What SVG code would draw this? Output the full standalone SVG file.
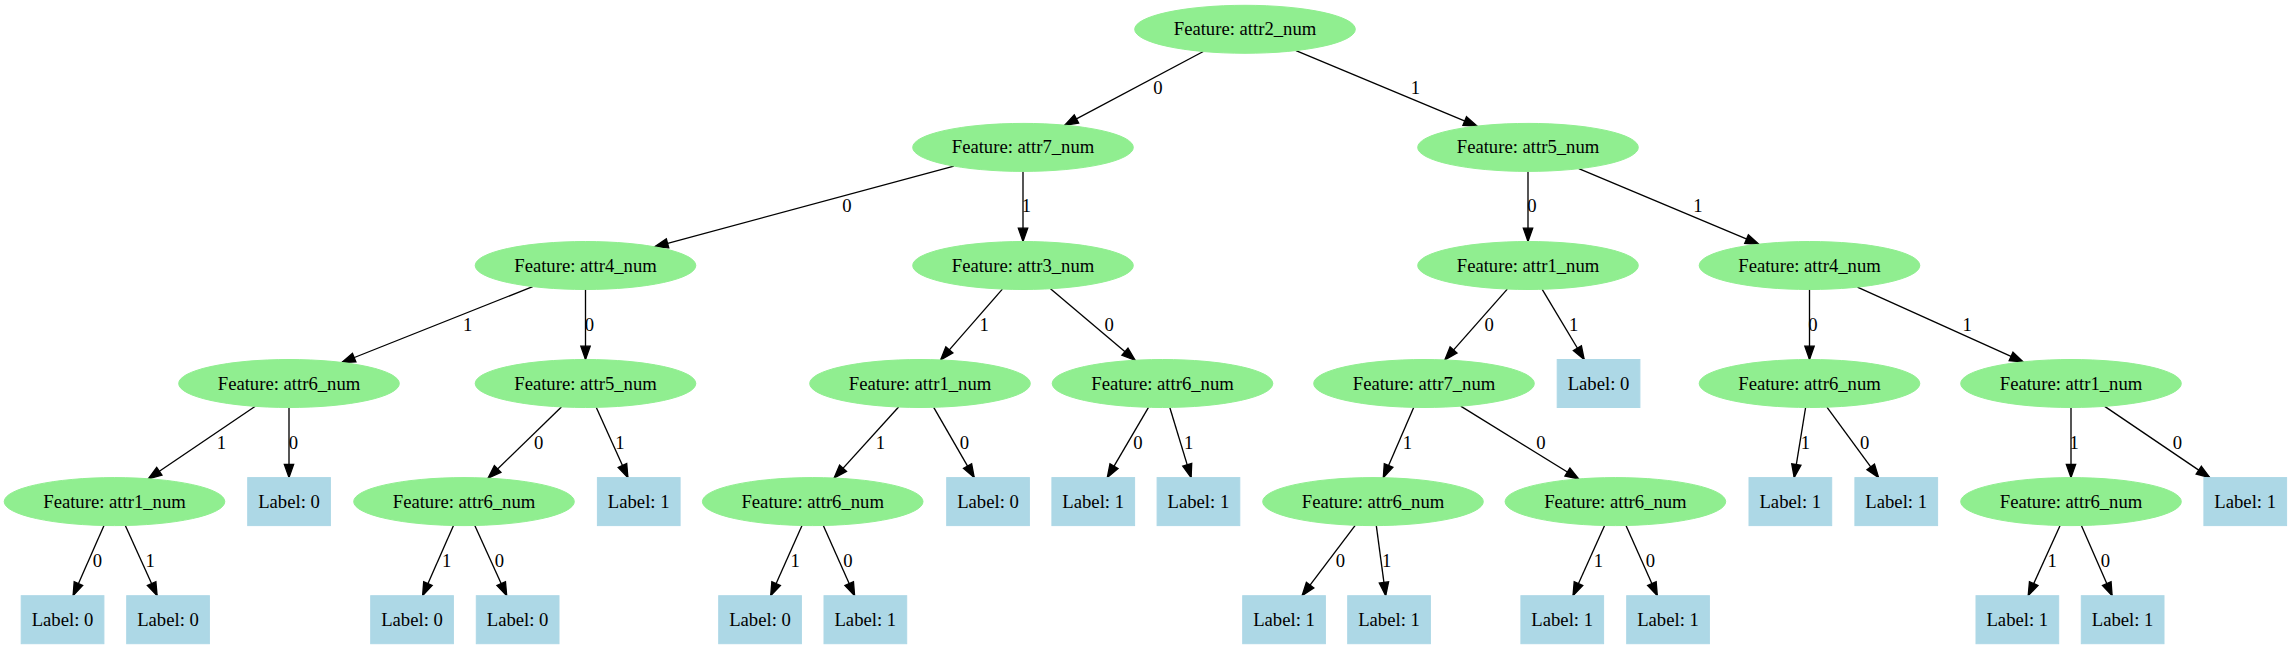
<svg xmlns="http://www.w3.org/2000/svg" width="2291" height="649" viewBox="0 0 2291 649">
<style>
.n ellipse{fill:#90ee90;stroke:#90ee90;stroke-width:1}
.n rect{fill:#add8e6;stroke:#add8e6;stroke-width:1}
text{font-family:"Liberation Serif","Times New Roman",serif;font-size:18.67px;fill:#000;text-anchor:middle}
.e path{fill:none;stroke:#000;stroke-width:1.33;marker-end:url(#ah)}
</style>
<defs>
<marker id="ah" markerUnits="userSpaceOnUse" markerWidth="16" markerHeight="12" refX="13.3" refY="4.67" orient="auto" overflow="visible">
<path d="M0,0 L13.3,4.67 L0,9.33 Z" fill="#000" stroke="#000" stroke-width="1.33"/>
</marker>
</defs>
<g id="edges" class="e">
<path d="M1203.3,51.5 L1064.7,125.2"/><text x="1157.8" y="94.2">0</text>
<path d="M1296,50.6 L1477,126.1"/><text x="1415.5" y="94.2">1</text>
<path d="M953.9,166.1 L654.7,246.8"/><text x="846.9" y="212.1">0</text>
<path d="M1023,171.4 L1023,241.5"/><text x="1026.5" y="212.1">1</text>
<path d="M1528,171.4 L1528,241.5"/><text x="1531.9" y="212.1">0</text>
<path d="M1578.8,168.7 L1758.8,244.2"/><text x="1698" y="212.1">1</text>
<path d="M532.7,286.6 L341.8,362.5"/><text x="467.6" y="330.9">1</text>
<path d="M585.5,289.5 L585.5,359.5"/><text x="589.4" y="330.9">0</text>
<path d="M1002.4,289.1 L940.6,359.9"/><text x="984.2" y="330.9">1</text>
<path d="M1050.5,288.7 L1135.1,360.3"/><text x="1109.1" y="330.9">0</text>
<path d="M1507.3,289.1 L1444.8,359.9"/><text x="1489.1" y="330.9">0</text>
<path d="M1542.2,289.3 L1584.2,359.5"/><text x="1573.7" y="330.9">1</text>
<path d="M1809.5,289.5 L1809.5,359.5"/><text x="1812.9" y="330.9">0</text>
<path d="M1857.4,287.1 L2023.2,361.9"/><text x="1967.1" y="330.9">1</text>
<path d="M255.3,406.3 L148.3,478.8"/><text x="221.3" y="448.9">1</text>
<path d="M289,407.5 L289,477.6"/><text x="293.5" y="448.9">0</text>
<path d="M561.4,406.9 L488.1,478.2"/><text x="538.7" y="448.9">0</text>
<path d="M596.3,407.4 L627.9,477.6"/><text x="619.8" y="448.9">1</text>
<path d="M898.6,407 L834.1,478.1"/><text x="880.3" y="448.9">1</text>
<path d="M933.7,407.3 L974.2,477.6"/><text x="964.3" y="448.9">0</text>
<path d="M1148.5,407.3 L1107.3,477.6"/><text x="1137.9" y="448.9">0</text>
<path d="M1169.8,407.5 L1191.1,477.6"/><text x="1188.7" y="448.9">1</text>
<path d="M1413.7,407.4 L1383.3,477.7"/><text x="1407.5" y="448.9">1</text>
<path d="M1460.7,406.1 L1578.7,479"/><text x="1540.8" y="448.9">0</text>
<path d="M1805.6,407.5 L1794.2,477.6"/><text x="1805.5" y="448.9">1</text>
<path d="M1826.9,407.2 L1878.6,477.6"/><text x="1864.7" y="448.9">0</text>
<path d="M2071,407.5 L2071,477.6"/><text x="2074.1" y="448.9">1</text>
<path d="M2104.7,406.4 L2209.8,477.6"/><text x="2177.5" y="448.9">0</text>
<path d="M104,525.5 L73.1,595.7"/><text x="97.5" y="566.8">0</text>
<path d="M125.3,525.5 L157.1,595.7"/><text x="150.2" y="566.8">1</text>
<path d="M453.5,525.5 L422.6,595.7"/><text x="446.7" y="566.8">1</text>
<path d="M474.8,525.5 L506.7,595.7"/><text x="499.4" y="566.8">0</text>
<path d="M802,525.5 L770.7,595.7"/><text x="795.2" y="566.8">1</text>
<path d="M823.3,525.5 L854.6,595.7"/><text x="847.9" y="566.8">0</text>
<path d="M1355.2,525.3 L1302.1,595.7"/><text x="1340.4" y="566.8">0</text>
<path d="M1376.3,525.6 L1385.7,595.7"/><text x="1386.6" y="566.8">1</text>
<path d="M1604.6,525.5 L1573,595.7"/><text x="1598.5" y="566.8">1</text>
<path d="M1626,525.5 L1657.3,595.7"/><text x="1650.3" y="566.8">0</text>
<path d="M2060.1,525.5 L2028.2,595.7"/><text x="2052.2" y="566.8">1</text>
<path d="M2081.4,525.5 L2112.1,595.7"/><text x="2105.4" y="566.8">0</text>
</g>
<g id="n0" class="n"><ellipse cx="1245" cy="29.3" rx="110.3" ry="24"/><text x="1245" y="35.3">Feature: attr2_num</text></g>
<g id="n1" class="n"><ellipse cx="1023" cy="147.4" rx="110.3" ry="24"/><text x="1023" y="153.4">Feature: attr7_num</text></g>
<g id="n2" class="n"><ellipse cx="1528" cy="147.4" rx="110.3" ry="24"/><text x="1528" y="153.4">Feature: attr5_num</text></g>
<g id="n3" class="n"><ellipse cx="585.5" cy="265.5" rx="110.3" ry="24"/><text x="585.5" y="271.5">Feature: attr4_num</text></g>
<g id="n4" class="n"><ellipse cx="1023" cy="265.5" rx="110.3" ry="24"/><text x="1023" y="271.5">Feature: attr3_num</text></g>
<g id="n5" class="n"><ellipse cx="1528" cy="265.5" rx="110.3" ry="24"/><text x="1528" y="271.5">Feature: attr1_num</text></g>
<g id="n6" class="n"><ellipse cx="1809.5" cy="265.5" rx="110.3" ry="24"/><text x="1809.5" y="271.5">Feature: attr4_num</text></g>
<g id="n7" class="n"><ellipse cx="289" cy="383.5" rx="110.3" ry="24"/><text x="289" y="389.5">Feature: attr6_num</text></g>
<g id="n8" class="n"><ellipse cx="585.5" cy="383.5" rx="110.3" ry="24"/><text x="585.5" y="389.5">Feature: attr5_num</text></g>
<g id="n9" class="n"><ellipse cx="920" cy="383.5" rx="110.3" ry="24"/><text x="920" y="389.5">Feature: attr1_num</text></g>
<g id="n10" class="n"><ellipse cx="1162.5" cy="383.5" rx="110.3" ry="24"/><text x="1162.5" y="389.5">Feature: attr6_num</text></g>
<g id="n11" class="n"><ellipse cx="1424" cy="383.5" rx="110.3" ry="24"/><text x="1424" y="389.5">Feature: attr7_num</text></g>
<g id="n12" class="n"><rect x="1557.2" y="359.5" width="82.7" height="48"/><text x="1598.5" y="389.5">Label: 0</text></g>
<g id="n13" class="n"><ellipse cx="1809.5" cy="383.5" rx="110.3" ry="24"/><text x="1809.5" y="389.5">Feature: attr6_num</text></g>
<g id="n14" class="n"><ellipse cx="2071" cy="383.5" rx="110.3" ry="24"/><text x="2071" y="389.5">Feature: attr1_num</text></g>
<g id="n15" class="n"><ellipse cx="114.5" cy="501.6" rx="110.3" ry="24"/><text x="114.5" y="507.6">Feature: attr1_num</text></g>
<g id="n16" class="n"><rect x="247.7" y="477.6" width="82.7" height="48"/><text x="289" y="507.6">Label: 0</text></g>
<g id="n17" class="n"><ellipse cx="464" cy="501.6" rx="110.3" ry="24"/><text x="464" y="507.6">Feature: attr6_num</text></g>
<g id="n18" class="n"><rect x="597.4" y="477.6" width="82.7" height="48"/><text x="638.7" y="507.6">Label: 1</text></g>
<g id="n19" class="n"><ellipse cx="812.7" cy="501.6" rx="110.3" ry="24"/><text x="812.7" y="507.6">Feature: attr6_num</text></g>
<g id="n20" class="n"><rect x="946.7" y="477.6" width="82.7" height="48"/><text x="988" y="507.6">Label: 0</text></g>
<g id="n21" class="n"><rect x="1051.9" y="477.6" width="82.7" height="48"/><text x="1093.2" y="507.6">Label: 1</text></g>
<g id="n22" class="n"><rect x="1157.1" y="477.6" width="82.7" height="48"/><text x="1198.4" y="507.6">Label: 1</text></g>
<g id="n23" class="n"><ellipse cx="1373" cy="501.6" rx="110.3" ry="24"/><text x="1373" y="507.6">Feature: attr6_num</text></g>
<g id="n24" class="n"><ellipse cx="1615.4" cy="501.6" rx="110.3" ry="24"/><text x="1615.4" y="507.6">Feature: attr6_num</text></g>
<g id="n25" class="n"><rect x="1749" y="477.6" width="82.7" height="48"/><text x="1790.3" y="507.6">Label: 1</text></g>
<g id="n26" class="n"><rect x="1854.9" y="477.6" width="82.7" height="48"/><text x="1896.2" y="507.6">Label: 1</text></g>
<g id="n27" class="n"><ellipse cx="2071" cy="501.6" rx="110.3" ry="24"/><text x="2071" y="507.6">Feature: attr6_num</text></g>
<g id="n28" class="n"><rect x="2203.9" y="477.6" width="82.7" height="48"/><text x="2245.2" y="507.6">Label: 1</text></g>
<g id="n29" class="n"><rect x="21.2" y="595.7" width="82.7" height="48"/><text x="62.5" y="625.7">Label: 0</text></g>
<g id="n30" class="n"><rect x="126.7" y="595.7" width="82.7" height="48"/><text x="168" y="625.7">Label: 0</text></g>
<g id="n31" class="n"><rect x="370.7" y="595.7" width="82.7" height="48"/><text x="412" y="625.7">Label: 0</text></g>
<g id="n32" class="n"><rect x="476.3" y="595.7" width="82.7" height="48"/><text x="517.6" y="625.7">Label: 0</text></g>
<g id="n33" class="n"><rect x="718.7" y="595.7" width="82.7" height="48"/><text x="760" y="625.7">Label: 0</text></g>
<g id="n34" class="n"><rect x="824" y="595.7" width="82.7" height="48"/><text x="865.3" y="625.7">Label: 1</text></g>
<g id="n35" class="n"><rect x="1242.7" y="595.7" width="82.7" height="48"/><text x="1284" y="625.7">Label: 1</text></g>
<g id="n36" class="n"><rect x="1347.7" y="595.7" width="82.7" height="48"/><text x="1389" y="625.7">Label: 1</text></g>
<g id="n37" class="n"><rect x="1520.9" y="595.7" width="82.7" height="48"/><text x="1562.2" y="625.7">Label: 1</text></g>
<g id="n38" class="n"><rect x="1626.7" y="595.7" width="82.7" height="48"/><text x="1668" y="625.7">Label: 1</text></g>
<g id="n39" class="n"><rect x="1976" y="595.7" width="82.7" height="48"/><text x="2017.3" y="625.7">Label: 1</text></g>
<g id="n40" class="n"><rect x="2081.3" y="595.7" width="82.7" height="48"/><text x="2122.6" y="625.7">Label: 1</text></g>
</svg>
